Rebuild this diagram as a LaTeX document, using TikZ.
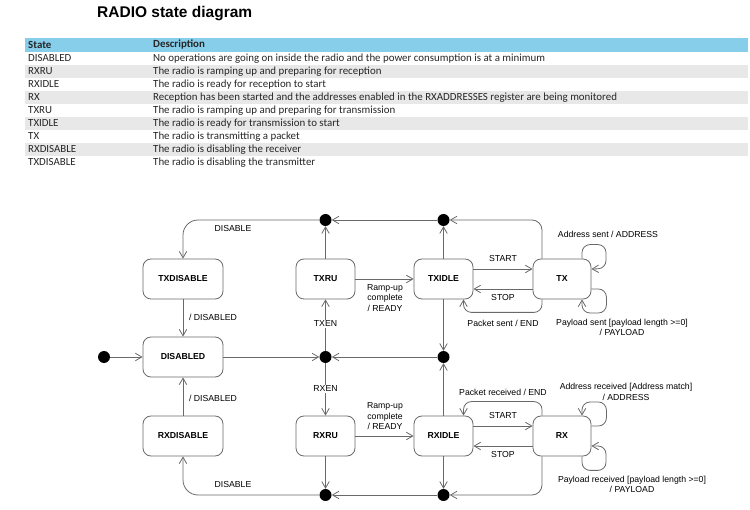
\documentclass[tikz,border=0pt]{standalone}
\usepackage{fontspec}
\setmainfont{Liberation Sans}
\newfontfamily\tabfont{Carlito}
\usetikzlibrary{arrows.meta}
\definecolor{hdrblue}{RGB}{135,206,235}
\definecolor{rowgray}{RGB}{232,232,232}
\definecolor{linegray}{RGB}{105,105,105}
\begin{document}
\begin{tikzpicture}[x=1pt,y=-1pt,
 state/.style={draw=linegray, line width=0.8pt, rounded corners=8pt, minimum height=40pt, font=\fontsize{8.7}{10}\selectfont\bfseries, inner sep=0pt},
 junc/.style={circle, fill=black, minimum size=12pt, inner sep=0pt},
 arr/.style={draw=linegray, line width=0.8pt, -{Straight Barb[length=6.5pt,width=7.5pt]}},
 lbl/.style={font=\fontsize{8.7}{10.5}\selectfont, align=center, inner sep=0pt},
 tab/.style={font=\tabfont\fontsize{10.9}{12}\selectfont, anchor=west, inner sep=0pt, text=black!85},
 tabh/.style={tab, font=\tabfont\fontsize{10.9}{12}\selectfont\bfseries}
]
\useasboundingbox (0,0) rectangle (750,510);
% title
\node[anchor=west, inner sep=0pt, font=\fontsize{15.5}{18}\selectfont\bfseries] (title) at (97,14) {RADIO state diagram};
% table
\fill[hdrblue] (25,38) rectangle (748,52);
\foreach \i in {2,4,6,8}{
  \fill[rowgray] (25,{52+13*(\i-1)}) rectangle (748,{52+13*\i});
}
\node[tabh] (hs) at (28,45) {State};
\node[tabh] (hd) at (153,45) {Description};
\foreach \s/\d [count=\i] in {
 DISABLED/No operations are going on inside the radio and the power consumption is at a minimum,
 RXRU/The radio is ramping up and preparing for reception,
 RXIDLE/The radio is ready for reception to start,
 RX/Reception has been started and the addresses enabled in the RXADDRESSES register are being monitored,
 TXRU/The radio is ramping up and preparing for transmission,
 TXIDLE/The radio is ready for transmission to start,
 TX/The radio is transmitting a packet,
 RXDISABLE/The radio is disabling the receiver,
 TXDISABLE/The radio is disabling the transmitter}{
  \node[tab] (rs\i) at (28,{58.5+13*(\i-1)}) {\s};
  \node[tab] (rd\i) at (153,{58.5+13*(\i-1)}) {\d};
}
% states
\node[state, minimum width=80pt] (TXDISABLE) at (183,279) {TXDISABLE};
\node[state, minimum width=80pt] (DISABLED) at (183,357) {DISABLED};
\node[state, minimum width=80pt] (RXDISABLE) at (183,436) {RXDISABLE};
\node[state, minimum width=59pt] (TXRU) at (325.5,279) {TXRU};
\node[state, minimum width=59pt] (RXRU) at (325.5,436) {RXRU};
\node[state, minimum width=59pt] (TXIDLE) at (443.5,279) {TXIDLE};
\node[state, minimum width=59pt] (RXIDLE) at (443.5,436) {RXIDLE};
\node[state, minimum width=58pt] (TX) at (562,279) {TX};
\node[state, minimum width=58pt] (RX) at (562,436) {RX};
% junctions
\node[junc] (init) at (104,357) {};
\node[junc] (jTL) at (325.5,220) {};
\node[junc] (jTR) at (443.5,220) {};
\node[junc] (jML) at (325.5,357) {};
\node[junc] (jMR) at (443.5,357) {};
\node[junc] (jBL) at (325.5,495) {};
\node[junc] (jBR) at (443.5,495) {};
% edges
\draw[arr] (init) -- (DISABLED);
\draw[arr] (DISABLED) -- (jML);
\draw[arr] (jMR) -- (jML);
\draw[arr] (jML) -- (TXRU);
\draw[arr] (jML) -- (RXRU);
\draw[arr] (TXRU) -- (jTL);
\draw[arr] (RXRU) -- (jBL);
\draw[arr] (jTR) -- (jTL);
\draw[arr] (jBR) -- (jBL);
\draw[arr, rounded corners=15pt] (jTL) -| (TXDISABLE.north);
\draw[arr, rounded corners=15pt] (jBL) -| (RXDISABLE.south);
\draw[arr] (TXDISABLE) -- (DISABLED);
\draw[arr] (RXDISABLE) -- (DISABLED);
\draw[arr] (TXRU) -- (TXIDLE);
\draw[arr] (RXRU) -- (RXIDLE);
\draw[arr] (TXIDLE) -- (jTR);
\draw[arr] (TXIDLE) -- (jMR);
\draw[arr] (RXIDLE) -- (jMR);
\draw[arr] (RXIDLE) -- (jBR);
% TX side
\draw[arr] ([yshift=10pt]TXIDLE.east) -- ([yshift=10pt]TX.west);
\draw[arr] ([yshift=-10pt]TX.west) -- ([yshift=-10pt]TXIDLE.east);
\draw[arr, rounded corners=8pt] ([xshift=-20pt]TX.south) -- ++(0pt,-13pt) -| ([xshift=20pt]TXIDLE.south);
\draw[arr, rounded corners=10pt] ([xshift=-20pt]TX.north) |- (jTR);
\draw[arr, rounded corners=8pt] ([xshift=20pt]TX.north) |- ++(24pt,14pt) -- ++(0pt,-24pt) -- ([yshift=10pt]TX.east);
\draw[arr, rounded corners=8pt] ([yshift=-10pt]TX.east) -- ++(15pt,0pt) -- ++(0pt,-24pt) -| ([xshift=20pt]TX.south);
% RX side
\draw[arr] ([yshift=10pt]RXIDLE.east) -- ([yshift=10pt]RX.west);
\draw[arr] ([yshift=-10pt]RX.west) -- ([yshift=-10pt]RXIDLE.east);
\draw[arr, rounded corners=8pt] ([xshift=-20pt]RX.north) -- ++(0pt,14pt) -| ([xshift=20pt]RXIDLE.north);
\draw[arr, rounded corners=10pt] ([xshift=-20pt]RX.south) |- (jBR);
\draw[arr, rounded corners=8pt] ([yshift=10pt]RX.east) -- ++(15pt,0pt) -- ++(0pt,24pt) -| ([xshift=20pt]RX.north);
\draw[arr, rounded corners=8pt] ([xshift=20pt]RX.south) -- ++(0pt,-14pt) -- ++(24pt,0pt) |- ([yshift=-10pt]RX.east);
% labels
\node[lbl] (l1) at (233,229) {DISABLE};
\node[lbl] (l2) at (213,317) {/ DISABLED};
\node[lbl, fill=white, inner sep=1pt] (l3) at (325.5,324) {TXEN};
\node[lbl, fill=white, inner sep=1pt] (l4) at (325.5,389) {RXEN};
\node[lbl] (l5) at (213,398) {/ DISABLED};
\node[lbl] (l6) at (233,485) {DISABLE};
\node[lbl] (l7) at (385,298) {Ramp-up\\complete\\/ READY};
\node[lbl] (l8) at (385,416.5) {Ramp-up\\complete\\/ READY};
\node[lbl] (l9) at (503,259) {START};
\node[lbl] (l10) at (503,298) {STOP};
\node[lbl] (l11) at (503,323) {Packet sent / END};
\node[lbl] (l12) at (608,234) {Address sent / ADDRESS};
\node[lbl] (l13) at (622,327.5) {Payload sent [payload length >=0]\\/ PAYLOAD};
\node[lbl] (l14) at (503,392) {Packet received / END};
\node[lbl] (l15) at (503,416) {START};
\node[lbl] (l16) at (503,455) {STOP};
\node[lbl] (l17) at (626,392) {Address received [Address match]\\/ ADDRESS};
\node[lbl] (l18) at (632,484.5) {Payload received [payload length >=0]\\/ PAYLOAD};
\end{tikzpicture}
\end{document}
